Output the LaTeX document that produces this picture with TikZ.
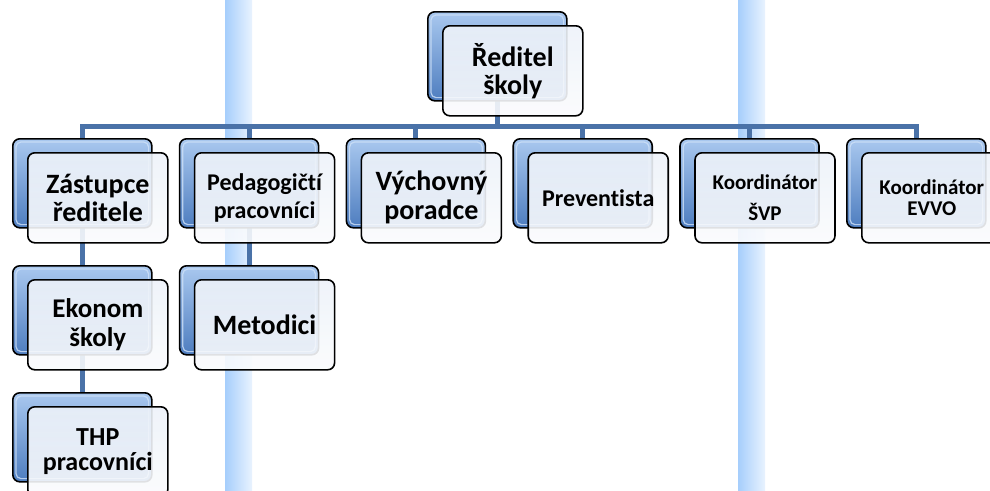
\documentclass[tikz,border=0pt]{standalone}
\usepackage{fontspec}
\setmainfont{Carlito}[Ligatures=NoCommon]
\definecolor{connblue}{HTML}{4A72A8}
\definecolor{stripeblue}{HTML}{A6CEFC}
\definecolor{backdark}{HTML}{4E7DBF}
\definecolor{backlight}{HTML}{A9C8EF}
\definecolor{backhigh}{HTML}{CFE1F7}
\definecolor{fronttop}{HTML}{EDF2F9}
\definecolor{frontbot}{HTML}{FAFBFD}
\pgfdeclarelayer{stripes}
\pgfdeclarelayer{lines}
\pgfsetlayers{stripes,lines,main}
\tikzset{
  backbox/.style={draw=black, line width=1.6pt, rounded corners=7pt,
    minimum width=139pt, minimum height=89pt, anchor=north west, inner sep=0pt,
    top color=backlight, bottom color=backdark},
  bevel/.style={draw=backhigh, line width=1.2pt, rounded corners=5pt, draw opacity=0.8},
  frontbox/.style={draw=black, line width=1.6pt, rounded corners=7pt,
    minimum width=140pt, minimum height=90pt, anchor=north west, inner sep=0pt,
    top color=fronttop, bottom color=frontbot, fill opacity=0.9, text opacity=1,
    align=center},
  conn/.style={draw=connblue, line width=5pt},
  stripe/.style={left color=stripeblue, right color=white!75!stripeblue, draw=none}
}
\newcommand\orgnode[6]{%
  \node[backbox] (#1-b) at (#2,#3) {};
  \draw[bevel] ([shift={(4,4)}]#1-b.north west) rectangle ([shift={(-4,-4)}]#1-b.south east);
  \node[frontbox, font={\bfseries\fontsize{#4}{#5}\selectfont}] (#1) at (#2+15,#3+14) {#6};
}
\begin{document}
\begin{tikzpicture}[x=1pt,y=-1pt]
\useasboundingbox (0,0) rectangle (990,490);
\begin{scope}
\clip (0,0) rectangle (990,490);
\begin{pgfonlayer}{stripes}
  \path[stripe] (225,0) rectangle (252,490);
  \path[stripe] (738,0) rectangle (765,490);
\end{pgfonlayer}
\orgnode{rs}{427}{11}{28}{28}{Ředitel\\školy}
\orgnode{zr}{12}{138}{28}{28}{Zástupce\\ředitele}
\orgnode{pp}{178.8}{138}{24}{28}{Pedagogičtí\\pracovníci}
\orgnode{vp}{345.6}{138}{28}{29}{Výchovný\\poradce}
\orgnode{pr}{512.4}{138}{24}{28}{Preventista}
\orgnode{ks}{679.2}{138}{21}{31}{Koordinátor\\ŠVP}
\orgnode{ke}{846}{138}{21}{21}{Koordinátor\\EVVO}
\orgnode{ek}{12}{265}{27}{29}{Ekonom\\školy}
\orgnode{me}{178.8}{265}{28}{28}{Metodici}
\orgnode{thp}{12}{392}{26}{25}{THP\\pracovníci}
\coordinate (bus) at (0,126);
\begin{pgfonlayer}{lines}
  \draw[conn] (rs-b.center) -- (rs-b.center |- bus);
  \draw[conn] (zr-b.north) -- (zr-b.north |- bus) -- (ke-b.north |- bus) -- (ke-b.north);
  \draw[conn] (pp-b.north |- bus) -- (pp-b.north);
  \draw[conn] (vp-b.north |- bus) -- (vp-b.north);
  \draw[conn] (pr-b.north |- bus) -- (pr-b.north);
  \draw[conn] (ks-b.north |- bus) -- (ks-b.north);
  \draw[conn] (zr-b.center) -- (ek-b.center);
  \draw[conn] (ek-b.center) -- (thp-b.center);
  \draw[conn] (pp-b.center) -- (me-b.center);
\end{pgfonlayer}
\end{scope}
\end{tikzpicture}
\end{document}
